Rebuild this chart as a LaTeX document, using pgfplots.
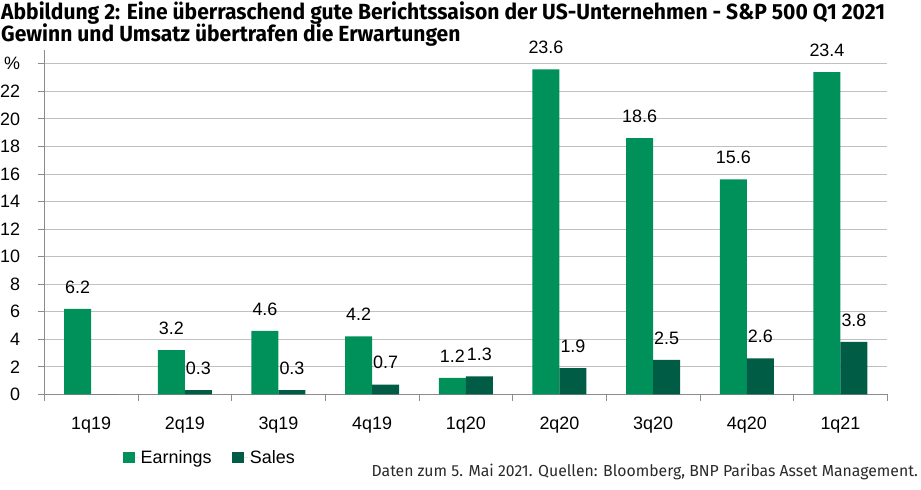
\documentclass[border=0pt]{standalone}
\usepackage{fontspec}
\setmainfont{Liberation Sans}
\newfontfamily\titlefont[FakeStretch=0.961]{Fira Sans}
\newfontfamily\notefont[FakeStretch=0.99]{Fira Sans}
\usepackage{pgfplots}
\pgfplotsset{compat=1.18}
\definecolor{earn}{HTML}{00915A}
\definecolor{sales}{HTML}{005C44}
\definecolor{gridgray}{HTML}{C0C0C0}
\definecolor{axisgray}{HTML}{8C8C8C}
\definecolor{notegray}{HTML}{2A2A2A}

\begin{document}
\begin{tikzpicture}
\useasboundingbox (0bp,0bp) rectangle (921bp,-490bp);
\node[anchor=base west, inner sep=0pt, font=\titlefont\bfseries\fontsize{22}{26}\selectfont] at (1bp,-19bp)
  {Abbildung 2: Eine überraschend gute Berichtssaison der US-Unternehmen - S\&P 500 Q1 2021};
\node[anchor=base west, inner sep=0pt, font=\titlefont\bfseries\fontsize{22}{26}\selectfont] at (1bp,-41.7bp)
  {Gewinn und Umsatz übertrafen die Erwartungen};
\begin{axis}[
  at={(44.3bp,-394.3bp)}, anchor=south west,
  scale only axis, width=843bp, height=344.3bp,
  xmin=-0.5, xmax=8.5, ymin=0, ymax=25,
  enlargelimits=false,
  ybar=0pt, bar width=27bp,
  axis x line*=bottom, axis y line*=left,
  axis line style={axisgray, line width=0.75bp},
  tick style={axisgray, line width=0.75bp},
  major tick length=6.5bp, tick align=outside,
  ytick={0,2,...,24},
  yticklabels={0,2,4,6,8,10,12,14,16,18,20,22,\%},
  ymajorgrids, grid style={gridgray, line width=0.75bp},
  xtick={-0.5,0.5,...,8.5},
  x tick label as interval,
  xticklabels={1q19,2q19,3q19,4q19,1q20,2q20,3q20,4q20,1q21},
  tick label style={font=\fontsize{18}{20}\selectfont, inner sep=0pt},
  yticklabel style={anchor=east, xshift=-17.5bp},
  xticklabel style={anchor=north, yshift=-16bp},
  nodes near coords={\pgfmathfloatifflags{\pgfplotspointmeta}{0}{}{\pgfmathprintnumber[assume math mode=true,fixed,fixed zerofill,precision=1]{\pgfplotspointmeta}}},
  every node near coord/.append style={font=\fontsize{18}{20}\selectfont, anchor=south, inner sep=0pt, yshift=15.5bp, text=black},
  legend columns=2,
  legend style={at={(0.0934,-0.1836)}, anchor=west, draw=none, fill=none, inner sep=0pt,
    font=\fontsize{18}{20}\selectfont,
    /tikz/every even column/.append style={column sep=19bp}},
  legend image code/.code={\fill[#1] (0bp,-5.75bp) rectangle (11.5bp,5.75bp);
    \path (0bp,0bp) -- (15.5bp,0bp);},
]
% Earnings surprise (%)
\addplot[fill=earn, draw=none] coordinates {
  (0,6.2) (1,3.2) (2,4.6) (3,4.2) (4,1.2) (5,23.6) (6,18.6) (7,15.6) (8,23.4)};
% Sales surprise (%)
\addplot[fill=sales, draw=none] coordinates {
  (0,0) (1,0.3) (2,0.3) (3,0.7) (4,1.3) (5,1.9) (6,2.5) (7,2.6) (8,3.8)};
\legend{Earnings, Sales}
\end{axis}
\node[anchor=base east, inner sep=0pt, text=notegray, font=\notefont\fontsize{16}{18}\selectfont] at (918bp,-476.7bp)
  {Daten zum 5. Mai 2021. Quellen: Bloomberg, BNP Paribas Asset Management.};
\end{tikzpicture}
\end{document}
